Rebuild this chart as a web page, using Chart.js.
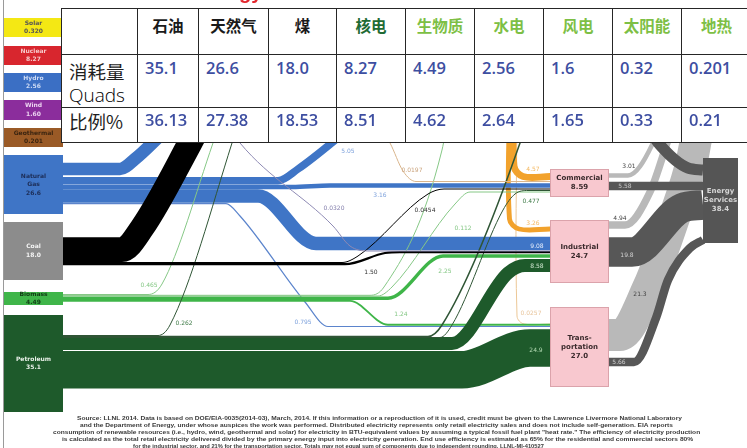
<!DOCTYPE html>
<html>
<head>
<meta charset="utf-8">
<title>Energy flow 2013</title>
<script src="https://cdn.jsdelivr.net/npm/chart.js"></script>
<style>
	html, body { margin: 0; padding: 0; background: #fff; }
	#page { position: relative; width: 747px; height: 448px; overflow: hidden; background: #fff; }
	#chart { position: absolute; left: 0; top: 0; }
	#edge { position: absolute; left: 3px; top: 0; width: 1px; height: 448px; background: #9a9a9a; }
	#title { position: absolute; top: -19px; left: 49px; white-space: nowrap; font: bold 20px "Liberation Sans", Arial, sans-serif; color: #e3262d; }
	.cell { position: absolute; box-sizing: border-box; background: #fff; border-right: 1px solid #262626; border-bottom: 1px solid #262626; overflow: hidden; }
	.head { text-align: center; font: bold 15.5px "Noto Sans CJK SC", sans-serif; line-height: 20px; padding-top: 6px; }
	.lab { font: 400 18.5px "Noto Sans CJK SC", sans-serif; color: #1e1e1e; line-height: 22px; padding-left: 7px; }
	.lab .en { font: 300 19px "Open Sans", sans-serif; color: #000; }
	.val { font: 600 16.5px "Open Sans", sans-serif; color: #3d4ea1; line-height: 22px; padding-left: 7px; }
	.note { position: absolute; white-space: nowrap; font: bold 6px "Liberation Sans", Arial, sans-serif; color: #3a3a3a; line-height: 7px; transform-origin: 0 0; }
</style>
</head>
<body>
<div id="page">
	<canvas id="chart" width="747" height="448"></canvas>
	<div id="edge"></div>
	<div id="title">Estimated U.S. Energy Use in 2013</div>
	<div id="grid"></div>
	<div id="notes"></div>
</div>
<script>
// ---- table data
const fuels = ['石油', '天然气', '煤', '核电', '生物质', '水电', '风电', '太阳能', '地热'];
const fuelQuads = [35.1, 26.6, 18.0, 8.27, 4.49, 2.56, 1.6, 0.32, 0.201];
const fuelShare = [36.13, 27.38, 18.53, 8.51, 4.62, 2.64, 1.65, 0.33, 0.21];
const quadDecimals = [1, 1, 1, 2, 2, 2, 1, 2, 3];
const rowTitles = [['消耗量', 'Quads'], ['比例%']];

// ---- sankey nodes
const sources = ['Solar', 'Nuclear', 'Hydro', 'Wind', 'Geothermal', 'Natural\nGas', 'Coal', 'Biomass', 'Petroleum'];
const sourceValues = [0.320, 8.27, 2.56, 1.60, 0.201, 26.6, 18.0, 4.49, 35.1];
const sectors = ['Commercial', 'Industrial', 'Trans-\nportation', 'Energy\nServices'];
const sectorValues = [8.59, 24.7, 27.0, 38.4];

// ---- sankey flows (quads)
const flowFrom = ['Natural Gas', 'Natural Gas', 'Natural Gas', 'Natural Gas', 'Natural Gas',
	'Coal', 'Coal', 'Coal', 'Solar', 'Geothermal',
	'Electricity', 'Electricity', 'Electricity',
	'Biomass', 'Biomass', 'Biomass', 'Biomass', 'Biomass',
	'Petroleum', 'Petroleum', 'Petroleum', 'Petroleum', 'Petroleum',
	'Commercial', 'Commercial', 'Industrial', 'Industrial', 'Transportation', 'Transportation', 'Residential'];
const flowTo = ['Electricity', 'Residential', 'Commercial', 'Industrial', 'Transportation',
	'Electricity', 'Commercial', 'Industrial', 'Industrial', 'Commercial',
	'Commercial', 'Industrial', 'Transportation',
	'Electricity', 'Residential', 'Commercial', 'Industrial', 'Transportation',
	'Electricity', 'Residential', 'Commercial', 'Industrial', 'Transportation',
	'Rejected', 'Services', 'Rejected', 'Services', 'Rejected', 'Services', 'Services'];
const flowValues = [8.38, 5.05, 3.16, 9.08, 0.795,
	16.5, 0.0454, 1.50, 0.0320, 0.0197,
	4.57, 3.26, 0.0257,
	0.465, 0.420, 0.112, 2.25, 1.24,
	0.262, 1.01, 0.477, 8.58, 24.9,
	3.01, 5.58, 4.94, 19.8, 21.3, 5.66, 7.41];

// ---- layout (not data)
const PX_PER_QUAD = 1.5;
const col = {
	gas: '#3f75c6', gasThin: '#5b84cc', coal: '#000000', bio: '#3fb549', bioThin: '#86c886',
	pet: '#1e5a2b', petThin: '#2f5535', elec: '#f2a22c', elecThin: '#ecc796',
	geo: '#d9b58c', solar: '#8e8ab4', rej: '#b9b9b9', svc: '#575757'
};
const routes = [
	{ z: 3, c: col.gas, pts: [[63, 169], [120, 169], [135, 159], [166, 130], [182, 116]] },
	{ z: 3, c: col.gas, pts: [[63, 180.8], [278, 180.8], [298, 169], [350, 128], [365, 116]], lab: [348, 151, '#7ea2dc'] },
	{ z: 3, c: col.gas, pts: [[63, 187], [292, 187], [330, 185.5], [550, 185.5]], lab: [380, 195, '#7ea2dc'] },
	{ z: 3, c: col.gas, pts: [[63, 196], [258, 196], [316, 243.5], [550, 243.5]], lab: [537, 246, '#e6eefc'] },
	{ z: 3, c: col.gasThin, pts: [[63, 203.6], [226, 203.6], [240, 216], [305, 302], [328, 326.5], [550, 326.5]], lab: [303, 322, '#7ea2dc'] },
	{ z: 6, c: col.coal, pts: [[63, 249.5], [122, 249.5], [142, 228], [190, 143], [204, 116]] },
	{ z: 6, c: col.coal, pts: [[63, 262.5], [342, 262.5], [358, 256], [428, 194], [444, 189], [550, 189]], lab: [425, 210, '#333333'] },
	{ z: 6, c: col.coal, pts: [[63, 264.2], [345, 264.2], [385, 253], [400, 252], [550, 252]], lab: [371, 272, '#333333'] },
	{ z: 7, c: col.solar, pts: [[222, 116], [240, 143], [333, 226], [350, 246], [368, 251], [550, 251]], lab: [334, 208, '#8580ad'] },
	{ z: 7, c: col.geo, pts: [[372, 116], [390, 143], [403, 171], [416, 181.5], [550, 181.5]], lab: [412, 170, '#caa37c'] },
	{ z: 2, c: col.elec, tension: 0.35, pts: [[514, 100], [514, 166], [523, 176.5], [550, 176.5]], lab: [533, 169, '#f4b860'] },
	{ z: 2, c: col.elec, tension: 0.35, pts: [[509.5, 100], [509.5, 219], [519, 229], [550, 229]], lab: [533, 223, '#f4b860'] },
	{ z: 2, c: col.elecThin, tension: 0.35, pts: [[517, 100], [517, 316], [524, 324], [550, 324]], lab: [531, 313, '#e8c59c'] },
	{ z: 4, c: col.bioThin, pts: [[63, 294.5], [148, 294.5], [162, 284], [213, 143], [222, 116]], lab: [149, 285, '#86c886'] },
	{ z: 4, c: col.bioThin, pts: [[63, 295.3], [370, 295.3], [384, 287], [442, 150], [448, 116]] },
	{ z: 4, c: col.bioThin, pts: [[63, 296], [378, 296], [392, 287], [455, 204], [470, 192], [550, 192]], lab: [463, 228, '#86c886'] },
	{ z: 4, c: col.bio, pts: [[63, 298.2], [388, 298.2], [443, 256], [550, 256]], lab: [445, 271, '#86c886'] },
	{ z: 4, c: col.bio, pts: [[63, 300.9], [350, 300.9], [388, 324.8], [550, 324.8]], lab: [401, 314, '#86c886'] },
	{ z: 5, c: col.petThin, pts: [[63, 335.5], [158, 335.5], [170, 325], [232, 143], [240, 116]], lab: [184, 323, '#3d7a46'] },
	{ z: 5, c: col.petThin, pts: [[63, 336.5], [428, 336.5], [442, 325], [520, 143], [528, 116]] },
	{ z: 5, c: col.petThin, pts: [[63, 337.5], [440, 337.5], [452, 325], [503, 210], [515, 194], [528, 190.5], [550, 190.5]], lab: [531, 201, '#3d7a46'] },
	{ z: 5, c: col.pet, pts: [[63, 343.5], [452, 343.5], [508, 273], [525, 265.5], [550, 265.5]], lab: [537, 266, '#cfe6cf'] },
	{ z: 5, c: col.pet, pts: [[63, 369.7], [462, 369.7], [530, 348], [550, 348]], lab: [536, 350, '#b5dcb5'] },
	{ z: 1, c: col.rej, pts: [[609, 175.5], [628, 175.5], [652, 145], [662, 116]], lab: [629, 166, '#444444'] },
	{ z: 8, c: col.svc, pts: [[609, 186], [703, 186]], lab: [625, 186, '#c8c8c8'] },
	{ z: 1, c: col.rej, pts: [[609, 225], [625, 225], [650, 192], [668, 140], [676, 116]], lab: [620, 218, '#444444'] },
	{ z: 8, c: col.svc, pts: [[609, 252], [632, 252], [682, 208], [703, 205]], lab: [627, 255, '#d0d0d0'] },
	{ z: 1, c: col.rej, pts: [[609, 335], [620, 335], [648, 288], [675, 215], [692, 160], [700, 116]], lab: [640, 294, '#444444'] },
	{ z: 8, c: col.svc, pts: [[609, 362], [634, 362], [656, 318], [668, 280], [690, 248], [703, 240]], lab: [619, 362, '#d0d0d0'] },
	{ z: 8, c: col.svc, pts: [[640, 116], [660, 145], [688, 168], [703, 170]] }
];
const sourceBox = { x0: 4, x1: 63, y: [[18, 37], [46, 65], [73, 92], [100, 120], [128, 147], [155, 214], [222, 280], [292, 305], [315, 412]] };
const sourceFill = ['#f4e814', '#d8262e', '#3b6fc4', '#8b2d9c', '#9a5a26', '#3f75c6', '#8c8c8c', '#3fb549', '#1e5a2b'];
const sourceInk = ['#555555', '#f7c9c9', '#cfdcf5', '#ecd3f0', '#3a2410', '#1c2c55', '#f4f4f4', '#123d16', '#e8f0e8'];
const sectorBox = [[550, 609, 169, 197], [550, 609, 220, 283], [550, 609, 307, 387], [703, 738, 158, 243]];
const headColor = ['#1a1a1a', '#1a1a1a', '#1a1a1a', '#1f6b34', '#7dbf45', '#7dbf45', '#7dbf45', '#7dbf45', '#7dbf45'];
const colX = [61, 138, 199, 269, 337, 406, 475, 544, 613, 682, 752];
const rowY = [8, 55, 108, 143];

const footnote = [
	'Source: LLNL 2014. Data is based on DOE/EIA-0035(2014-03), March, 2014. If this information or a reproduction of it is used, credit must be given to the Lawrence Livermore National Laboratory',
	'and the Department of Energy, under whose auspices the work was performed. Distributed electricity represents only retail electricity sales and does not include self-generation.  EIA reports',
	'consumption of renewable resources (i.e., hydro, wind, geothermal and solar) for electricity in BTU-equivalent values by assuming a typical fossil fuel plant "heat rate."  The efficiency of electricity production',
	'is calculated as the total retail electricity delivered divided by the primary energy input into electricity generation.  End use efficiency is estimated as 65% for the residential and commercial sectors 80%',
	'for the industrial sector, and 21% for the transportation sector.  Totals may not equal sum of components due to independent rounding.  LLNL-MI-410527'
];
const noteSpan = [[77, 682], [80, 675], [53, 702], [62, 695], [133, 547]];
const noteY = [418, 425, 432, 439, 446];

// ---- table
const grid = document.getElementById('grid');
const cell = (i, j, html, cls, color) => {
	const d = document.createElement('div');
	d.className = 'cell ' + cls;
	d.style.left = colX[i] + 'px';
	d.style.top = rowY[j] + 'px';
	d.style.width = (colX[i + 1] - colX[i]) + 'px';
	d.style.height = (rowY[j + 1] - rowY[j]) + 'px';
	if (i === 0) d.style.borderLeft = '1px solid #262626';
	if (j === 0) d.style.borderTop = '1px solid #262626';
	if (color) d.style.color = color;
	d.innerHTML = html;
	grid.appendChild(d);
	return d;
};
cell(0, 0, '', 'head');
fuels.forEach((f, i) => cell(i + 1, 0, f, 'head', headColor[i]));
const l1 = cell(0, 1, `<div>${rowTitles[0][0]}</div><div class="en">${rowTitles[0][1]}</div>`, 'lab');
l1.style.paddingTop = '5px';
const l2 = cell(0, 2, `<div>${rowTitles[1][0]}</div>`, 'lab');
l2.style.paddingTop = '2px';
fuelQuads.forEach((v, i) => { cell(i + 1, 1, v.toFixed(quadDecimals[i]), 'val').style.paddingTop = '2px'; });
fuelShare.forEach((v, i) => { cell(i + 1, 2, v.toFixed(2), 'val').style.paddingTop = '1px'; });

// ---- footnote, each line fitted to its width in the picture
const notes = document.getElementById('notes');
const mctx = document.createElement('canvas').getContext('2d');
mctx.font = 'bold 6px "Liberation Sans", Arial, sans-serif';
footnote.forEach((t, i) => {
	const d = document.createElement('div');
	d.className = 'note';
	d.textContent = t;
	d.style.left = noteSpan[i][0] + 'px';
	d.style.top = (noteY[i] - 3.5) + 'px';
	const w = mctx.measureText(t).width;
	d.style.transform = `scaleX(${(noteSpan[i][1] - noteSpan[i][0]) / w})`;
	notes.appendChild(d);
});

// ---- sankey
const datasets = flowValues.map((v, i) => {
	const r = routes[i];
	return {
		label: `${flowFrom[i]} → ${flowTo[i]}`,
		data: r.pts.map((p) => ({ x: p[0], y: p[1] })),
		borderColor: r.c,
		borderWidth: Math.max(1, v * PX_PER_QUAD),
		borderCapStyle: 'butt',
		borderJoinStyle: 'round',
		cubicInterpolationMode: r.tension ? 'default' : 'monotone',
		tension: r.tension || 0,
		pointRadius: 0,
		fill: false,
		order: -r.z
	};
});

const drawLines = (ctx, lines, cx, cy, gap) => {
	lines.forEach((s, k) => ctx.fillText(s, cx, cy + (k - (lines.length - 1) / 2) * gap));
};

const nodes = {
	id: 'nodes',
	afterDatasetsDraw(chart) {
		const { ctx, scales: { x, y } } = chart;
		ctx.save();
		ctx.textAlign = 'center';
		ctx.textBaseline = 'middle';

		sources.forEach((name, i) => {
			const [y0, y1] = sourceBox.y[i];
			const px0 = x.getPixelForValue(sourceBox.x0), px1 = x.getPixelForValue(sourceBox.x1);
			const py0 = y.getPixelForValue(y0), py1 = y.getPixelForValue(y1);
			ctx.fillStyle = sourceFill[i];
			ctx.fillRect(px0, py0, px1 - px0, py1 - py0);
			ctx.fillStyle = sourceInk[i];
			ctx.font = 'bold 6px "DejaVu Sans", sans-serif';
			drawLines(ctx, [...name.split('\n'), sourceValues[i].toPrecision(3)], (px0 + px1) / 2, (py0 + py1) / 2, 8.5);
		});

		sectors.forEach((name, i) => {
			const [x0, x1, y0, y1] = sectorBox[i];
			const px0 = x.getPixelForValue(x0), px1 = x.getPixelForValue(x1);
			const py0 = y.getPixelForValue(y0), py1 = y.getPixelForValue(y1);
			const services = i === sectors.length - 1;
			ctx.fillStyle = services ? '#555555' : '#f8c8cf';
			ctx.fillRect(px0, py0, px1 - px0, py1 - py0);
			if (!services) {
				ctx.strokeStyle = '#dba3ab';
				ctx.lineWidth = 1;
				ctx.strokeRect(px0 + 0.5, py0 + 0.5, px1 - px0 - 1, py1 - py0 - 1);
			}
			ctx.fillStyle = services ? '#d6d6d6' : '#3a2a2c';
			ctx.font = 'bold 7px "DejaVu Sans", sans-serif';
			drawLines(ctx, [...name.split('\n'), sectorValues[i].toPrecision(3)], (px0 + px1) / 2, (py0 + py1) / 2, 9);
		});

		ctx.font = '6px "DejaVu Sans", sans-serif';
		flowValues.forEach((v, i) => {
			const lab = routes[i].lab;
			if (!lab) return;
			ctx.fillStyle = lab[2];
			ctx.fillText(v.toPrecision(3), x.getPixelForValue(lab[0]), y.getPixelForValue(lab[1]));
		});
		ctx.restore();
	}
};

new Chart(document.getElementById('chart'), {
	type: 'line',
	data: { datasets },
	options: {
		responsive: false,
		animation: false,
		events: [],
		layout: { padding: 0 },
		scales: {
			x: { type: 'linear', min: 0, max: 747, display: false },
			y: { type: 'linear', min: 0, max: 448, reverse: true, display: false }
		},
		plugins: { legend: { display: false }, tooltip: { enabled: false } }
	},
	plugins: [nodes]
});
</script>
</body>
</html>
